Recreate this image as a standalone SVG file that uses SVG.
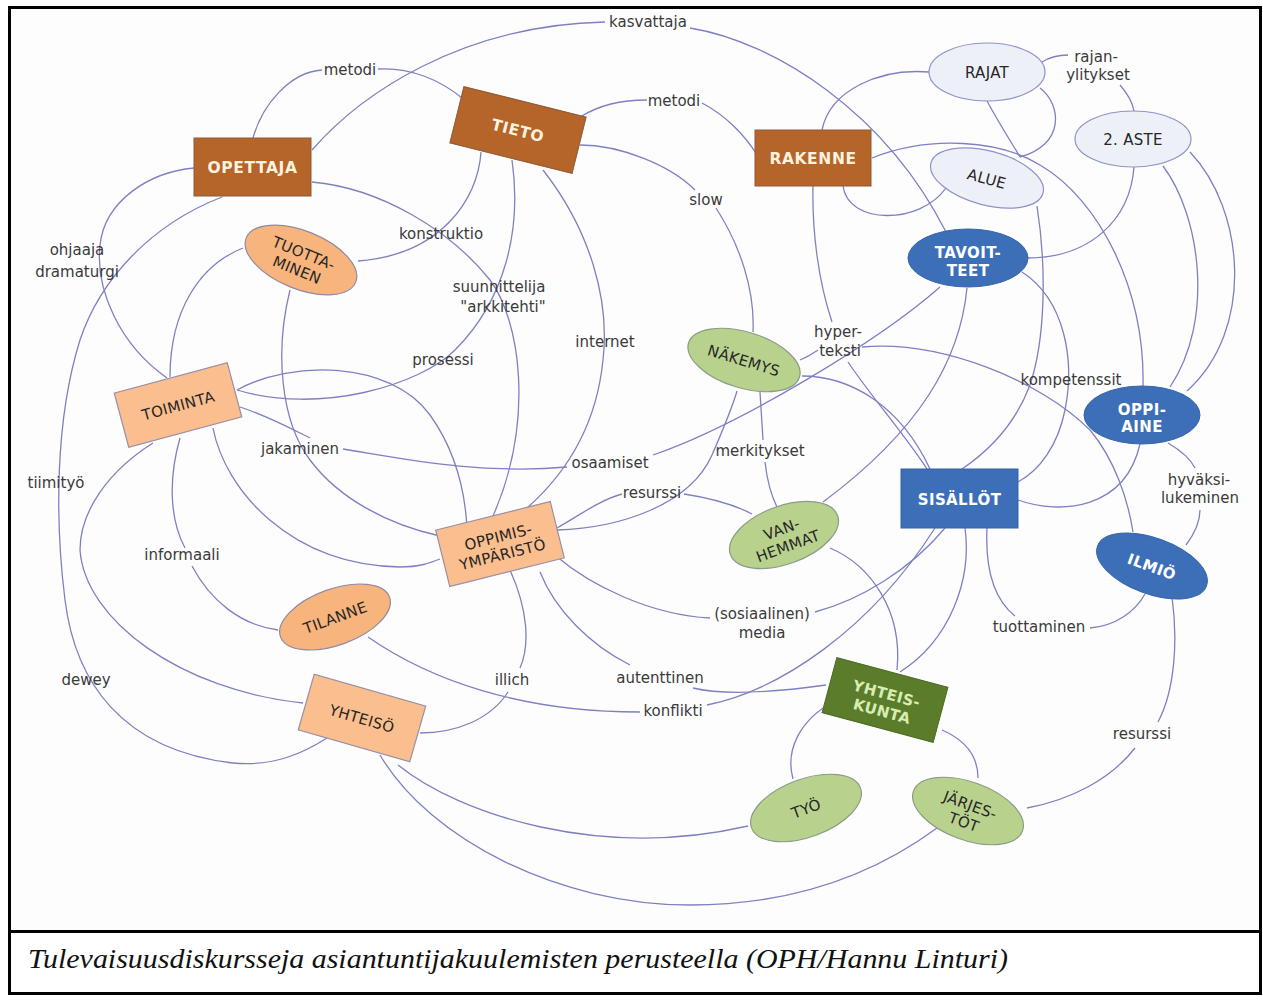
<svg xmlns="http://www.w3.org/2000/svg" width="1263" height="1000" viewBox="0 0 1263 1000">
<style>
.c{fill:none;stroke:#7f80c2;stroke-width:1.3}
.lb{font-family:"DejaVu Sans","Liberation Sans",sans-serif;font-size:15px;fill:#3a3a3a;text-anchor:middle}
.nt{font-family:"DejaVu Sans","Liberation Sans",sans-serif;text-anchor:middle}
.bw{font-size:15.5px;font-weight:bold;fill:#fff3df;letter-spacing:0.6px}
.ww{font-size:15px;font-weight:bold;fill:#ffffff;letter-spacing:0.4px}
.dk{font-size:15px;fill:#262626;letter-spacing:0.3px}
.gk{font-size:15px;font-weight:bold;fill:#d9edb2;letter-spacing:0.4px}
.brown{fill:#b5642a;stroke:#8d5a3a;stroke-width:1}
.peach{fill:#fbbe8e;stroke:#9a8fa8;stroke-width:1.2}
.peachE{fill:#f7b47c;stroke:#8f8aa5;stroke-width:1.2}
.lav{fill:#eef0f8;stroke:#8e92c8;stroke-width:1.2}
.blue{fill:#3c6fb8;stroke:#3565a8;stroke-width:1}
.lgreen{fill:#b8d28e;stroke:#8a9c86;stroke-width:1.2}
.dgreen{fill:#5a7c2b;stroke:#4d6b24;stroke-width:1}
</style>
<rect x="9.5" y="7.5" width="1251" height="986" fill="#fdfdfd" stroke="none"/>
<rect x="10" y="932" width="1250" height="61" fill="#ffffff"/>

<g id="connectors">
<path class="c" d="M312,150 C360,95 460,25 605,22 M690,28 C775,42 885,112 946,232"/>
<path class="c" d="M253,138 C262,105 290,72 322,70 M378,69 C410,67 440,80 462,98"/>
<path class="c" d="M580,117 C600,105 620,100 647,100 M702,103 C725,115 745,135 757,155"/>
<path class="c" d="M580,145 C620,145 670,165 695,190 M716,208 C740,245 755,290 753,332"/>
<path class="c" d="M481,152 C478,200 440,255 358,261"/>
<path class="c" d="M312,182 C380,188 450,230 490,280 C520,320 535,420 493,516"/>
<path class="c" d="M512,160 C522,230 505,300 455,350 C420,385 320,415 237,390"/>
<path class="c" d="M237,390 C290,360 390,360 430,415 C455,450 465,490 467,528"/>
<path class="c" d="M543,170 C590,230 610,300 603,360 C597,420 570,470 527,508"/>
<path class="c" d="M194,168 C150,172 105,200 100,245 C95,290 120,345 167,378"/>
<path class="c" d="M222,197 C150,225 100,280 80,340 C55,420 55,520 65,600 C75,680 120,750 233,763 C275,767 305,752 327,738"/>
<path class="c" d="M153,443 C110,470 80,510 80,550 C85,620 180,690 303,703"/>
<path class="c" d="M243,248 C200,265 170,310 170,377"/>
<path class="c" d="M290,290 C275,350 280,420 310,460 C340,500 390,525 440,536"/>
<path class="c" d="M240,407 C265,415 290,428 310,438 M343,449 C400,458 480,475 567,467 M653,455 C740,425 880,340 940,287"/>
<path class="c" d="M213,428 C225,490 290,565 400,567 C420,567 430,563 440,559"/>
<path class="c" d="M180,438 C168,480 170,520 185,548 M192,566 C210,600 240,625 278,630"/>
<path class="c" d="M368,637 C430,680 520,712 640,712 M707,705 C780,690 870,630 935,528"/>
<path class="c" d="M556,556 C590,585 650,615 710,618 M815,612 C860,600 910,570 945,528"/>
<path class="c" d="M540,572 C555,610 590,645 630,665 M693,688 C730,697 790,690 826,685"/>
<path class="c" d="M510,570 C528,610 530,645 520,668 M508,692 C490,720 455,733 420,733"/>
<path class="c" d="M557,528 C580,515 600,500 622,494 M684,494 C710,498 735,505 752,514"/>
<path class="c" d="M557,530 C620,528 690,505 712,455 C725,425 733,405 737,391"/>
<path class="c" d="M760,392 C761,410 762,425 763,440 M765,462 C767,480 771,495 777,507"/>
<path class="c" d="M800,360 C810,356 815,352 818,350 M862,347 C940,340 1040,380 1090,430 C1115,460 1128,500 1133,532"/>
<path class="c" d="M802,376 C850,376 900,405 930,469"/>
<path class="c" d="M813,186 C812,230 818,280 832,322 M848,362 C870,395 905,435 927,469"/>
<path class="c" d="M967,288 C960,360 920,430 823,502"/>
<path class="c" d="M1022,272 C1065,300 1075,360 1065,410 C1058,445 1040,470 1018,482"/>
<path class="c" d="M1037,206 C1047,270 1045,340 1030,385 C1015,425 990,450 962,469"/>
<path class="c" d="M1134,167 C1130,220 1090,258 1027,258"/>
<path class="c" d="M1163,166 C1200,215 1215,320 1170,387"/>
<path class="c" d="M1190,152 C1245,210 1255,330 1187,391"/>
<path class="c" d="M1042,62 C1050,57 1058,55 1068,55 M1120,85 C1127,93 1132,100 1134,111"/>
<path class="c" d="M1040,88 C1062,105 1065,145 1020,157"/>
<path class="c" d="M987,101 C1000,125 1010,140 1020,157"/>
<path class="c" d="M872,158 C930,135 1000,140 1040,165 C1100,200 1145,290 1143,386"/>
<path class="c" d="M822,130 C830,90 880,68 929,72"/>
<path class="c" d="M843,186 C848,225 920,225 946,188"/>
<path class="c" d="M1018,500 C1060,515 1125,510 1140,444"/>
<path class="c" d="M1168,443 C1180,450 1190,458 1195,468 M1200,510 C1200,522 1195,533 1186,545"/>
<path class="c" d="M987,528 C985,570 995,600 1015,616 M1090,628 C1115,626 1135,612 1145,594"/>
<path class="c" d="M1172,597 C1178,640 1175,690 1158,722 M1135,748 C1110,780 1070,800 1027,808"/>
<path class="c" d="M942,730 C965,740 978,755 978,778"/>
<path class="c" d="M833,702 C800,720 785,750 793,779"/>
<path class="c" d="M398,765 C460,815 600,860 748,826"/>
<path class="c" d="M380,755 C430,840 560,905 690,905 C800,905 880,870 937,828"/>
<path class="c" d="M830,548 C870,565 903,610 897,670"/>
<path class="c" d="M965,528 C972,580 950,640 900,672"/>
</g>

<g id="labels">
<text class="lb" x="648" y="27">kasvattaja</text>
<text class="lb" x="350" y="75">metodi</text>
<text class="lb" x="674" y="106">metodi</text>
<text class="lb" x="1096" y="62">rajan-</text>
<text class="lb" x="1098" y="80">ylitykset</text>
<text class="lb" x="706" y="205">slow</text>
<text class="lb" x="441" y="239">konstruktio</text>
<text class="lb" x="77" y="255">ohjaaja</text>
<text class="lb" x="77" y="277">dramaturgi</text>
<text class="lb" x="499" y="292">suunnittelija</text>
<text class="lb" x="503" y="312">"arkkitehti"</text>
<text class="lb" x="605" y="347">internet</text>
<text class="lb" x="443" y="365">prosessi</text>
<text class="lb" x="838" y="337">hyper-</text>
<text class="lb" x="840" y="356">teksti</text>
<text class="lb" x="1071" y="385">kompetenssit</text>
<text class="lb" x="300" y="454">jakaminen</text>
<text class="lb" x="610" y="468">osaamiset</text>
<text class="lb" x="760" y="456">merkitykset</text>
<text class="lb" x="652" y="498">resurssi</text>
<text class="lb" x="56" y="488">tiimityö</text>
<text class="lb" x="1199" y="485">hyväksi-</text>
<text class="lb" x="1200" y="503">lukeminen</text>
<text class="lb" x="182" y="560">informaali</text>
<text class="lb" x="762" y="619">(sosiaalinen)</text>
<text class="lb" x="762" y="638">media</text>
<text class="lb" x="1039" y="632">tuottaminen</text>
<text class="lb" x="86" y="685">dewey</text>
<text class="lb" x="512" y="685">illich</text>
<text class="lb" x="660" y="683">autenttinen</text>
<text class="lb" x="673" y="716">konflikti</text>
<text class="lb" x="1142" y="739">resurssi</text>
</g>

<g id="n-opettaja" transform="translate(252.5,167)"><rect class="brown" x="-58.5" y="-29" width="117" height="58"/><text class="nt bw" y="6">OPETTAJA</text></g>
<g id="n-tieto" transform="translate(518,130) rotate(14)"><rect class="brown" x="-63" y="-29" width="126" height="58"/><text class="nt bw" y="6">TIETO</text></g>
<g id="n-rakenne" transform="translate(813,158)"><rect class="brown" x="-58" y="-28" width="116" height="56"/><text class="nt bw" y="6">RAKENNE</text></g>
<g id="n-rajat" transform="translate(987,72)"><ellipse class="lav" rx="58" ry="29"/><text class="nt dk" y="6">RAJAT</text></g>
<g id="n-aste" transform="translate(1133,139)"><ellipse class="lav" rx="58" ry="28"/><text class="nt dk" y="6">2. ASTE</text></g>
<g id="n-alue" transform="translate(987,178) rotate(15)"><ellipse class="lav" rx="58" ry="27"/><text class="nt dk" y="6">ALUE</text></g>
<g id="n-tavoitteet" transform="translate(968,258)"><ellipse class="blue" rx="60" ry="29"/><text class="nt ww" y="0">TAVOIT-</text><text class="nt ww" y="18">TEET</text></g>
<g id="n-oppiaine" transform="translate(1142,415)"><ellipse class="blue" rx="58" ry="29"/><text class="nt ww" y="0">OPPI-</text><text class="nt ww" y="17">AINE</text></g>
<g id="n-sisallot" transform="translate(959.5,498.5)"><rect class="blue" x="-58.5" y="-29.5" width="117" height="59"/><text class="nt ww" y="6">SISÄLLÖT</text></g>
<g id="n-ilmio" transform="translate(1152,566) rotate(20)"><ellipse class="blue" rx="58" ry="28"/><text class="nt ww" y="6">ILMIÖ</text></g>
<g id="n-nakemys" transform="translate(744,360) rotate(17)"><ellipse class="lgreen" rx="58" ry="28"/><text class="nt dk" y="6">NÄKEMYS</text></g>
<g id="n-vanhemmat" transform="translate(784,535) rotate(-20)"><ellipse class="lgreen" rx="57" ry="29"/><text class="nt dk" y="-1">VAN-</text><text class="nt dk" y="17">HEMMAT</text></g>
<g id="n-oppimisymparisto" transform="translate(500,544) rotate(-14)"><rect class="peach" x="-59" y="-29" width="118" height="58"/><text class="nt dk" y="-2">OPPIMIS-</text><text class="nt dk" y="16">YMPÄRISTÖ</text></g>
<g id="n-toiminta" transform="translate(178,405) rotate(-15)"><rect class="peach" x="-58.5" y="-28" width="117" height="56"/><text class="nt dk" y="6">TOIMINTA</text></g>
<g id="n-tuottaminen" transform="translate(301,260) rotate(22)"><ellipse class="peachE" rx="59" ry="29"/><text class="nt dk" y="-2">TUOTTA-</text><text class="nt dk" y="16">MINEN</text></g>
<g id="n-tilanne" transform="translate(335,617) rotate(-20)"><ellipse class="peachE" rx="58" ry="28"/><text class="nt dk" y="6">TILANNE</text></g>
<g id="n-yhteiso" transform="translate(362,718) rotate(16)"><rect class="peach" x="-58" y="-29" width="116" height="58"/><text class="nt dk" y="6">YHTEISÖ</text></g>
<g id="n-yhteiskunta" transform="translate(885,700) rotate(15)"><rect class="dgreen" x="-57.5" y="-28.5" width="115" height="57"/><text class="nt gk" y="-1">YHTEIS-</text><text class="nt gk" y="17">KUNTA</text></g>
<g id="n-tyo" transform="translate(806,808) rotate(-20)"><ellipse class="lgreen" rx="58" ry="29"/><text class="nt dk" y="6">TYÖ</text></g>
<g id="n-jarjestot" transform="translate(968,811) rotate(20)"><ellipse class="lgreen" rx="58" ry="29"/><text class="nt dk" y="-1">JÄRJES-</text><text class="nt dk" y="17">TÖT</text></g>

<rect x="9.5" y="7.5" width="1251" height="986" fill="none" stroke="#000" stroke-width="3"/>
<line x1="9.5" y1="931.5" x2="1260.5" y2="931.5" stroke="#000" stroke-width="3"/>
<text x="28" y="968" font-family="Liberation Serif, serif" font-style="italic" font-size="27" textLength="980" lengthAdjust="spacingAndGlyphs" fill="#111">Tulevaisuusdiskursseja asiantuntijakuulemisten perusteella (OPH/Hannu Linturi)</text>
</svg>
